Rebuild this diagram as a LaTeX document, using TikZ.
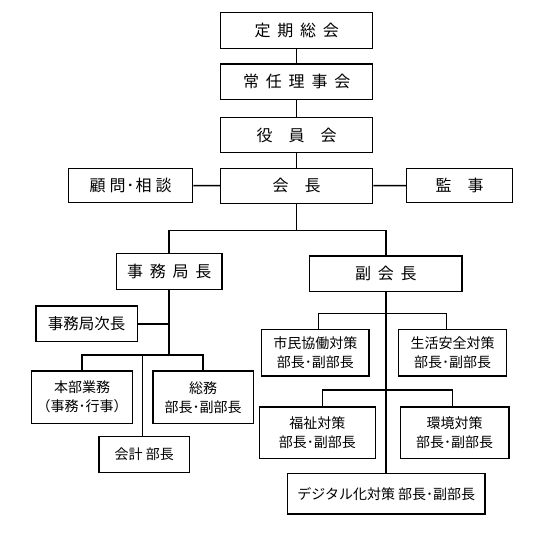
\documentclass[tikz,border=0pt]{standalone}
\usepackage{fontspec}
\newfontfamily\jp{Noto Sans CJK JP}
\newcommand\tgap{\hspace{6.8pt}}
\begin{document}
\begin{tikzpicture}[x=1pt,y=-1pt,
  box/.style={draw, line width=1.5pt, inner sep=0pt, align=center,
    font=\jp\fontsize{14}{19}\selectfont},
  big/.style={font=\jp\fontsize{16}{20}\selectfont},
  mid/.style={font=\jp\fontsize{15.5}{19}\selectfont},
  conn/.style={line width=1.5pt}]
\useasboundingbox (0,0) rectangle (543,539);
% top column
\node[box,big,minimum width=152pt,minimum height=35.6pt] (teiki) at (296.7,30.5) {定\tgap 期\tgap 総\tgap 会};
\node[box,big,minimum width=152pt,minimum height=35.3pt] (jonin) at (296.7,81.7) {常\tgap 任\tgap 理\tgap 事\tgap 会};
\node[box,big,minimum width=152pt,minimum height=35.4pt] (yakuin) at (296.7,135) {役　員　会};
\node[box,big,minimum width=152pt,minimum height=35pt] (kaicho) at (296.7,185.8) {会　長};
\node[box,big,minimum width=124.4pt,minimum height=34.4pt] (komon) at (130.5,185.5) {顧\hspace{4pt}問\hspace{1pt}･\hspace{1pt}相\hspace{4pt}談};
\node[box,big,minimum width=106pt,minimum height=34.4pt] (kanji) at (459.7,185.5) {監　事};
% second level
\node[box,big,minimum width=105.7pt,minimum height=36pt] (jkc) at (169.2,271.3) {事\tgap 務\tgap 局\tgap 長};
\node[box,big,minimum width=152.7pt,minimum height=35.7pt] (fuku) at (385.8,273.8) {副\tgap 会\tgap 長};
% left branch
\node[box,mid,minimum width=101.3pt,minimum height=35.7pt] (jisho) at (86.7,323.8) {事務局次長};
\node[box,minimum width=100.6pt,minimum height=52.3pt] (honbu) at (82,397.2) {本部業務\\（事務･行事）};
\node[box,minimum width=100.3pt,minimum height=52.3pt] (somu) at (203.2,397.2) {総務\\部長･副部長};
\node[box,minimum width=90.3pt,minimum height=35.6pt] (kaikei) at (144.2,454.5) {会計 部長};
% right branch
\node[box,minimum width=107.3pt,minimum height=46.7pt] (shimin) at (315.3,352.7) {市民協働対策\\部長･副部長};
\node[box,minimum width=108pt,minimum height=46.7pt] (seikatsu) at (452.7,352.7) {生活安全対策\\部長･副部長};
\node[box,minimum width=116pt,minimum height=51.5pt] (fukushi) at (317.3,432.7) {福祉対策\\部長･副部長};
\node[box,minimum width=108.7pt,minimum height=51.5pt] (kankyo) at (454.7,432.7) {環境対策\\部長･副部長};
\node[box,minimum width=197.3pt,minimum height=40.7pt] (digital) at (386.3,493.7) {デジタル化対策 部長･副部長};
% connectors: top column
\draw[conn] (teiki) -- (jonin);
\draw[conn] (jonin) -- (yakuin);
\draw[conn] (yakuin) -- (kaicho);
\draw[conn] (komon) -- (kaicho);
\draw[conn] (kaicho) -- (kanji);
\coordinate (kb) at (296.7,230.7);
\draw[conn] (kaicho.south) -- (kb);
\draw[conn] (jkc.north) |- (kb) -| (fuku.north);
% left branch
\coordinate (jb) at (169.2,355);
\draw[conn] (jkc.south) -- (jb);
\draw[conn] (jisho.east) -- (jisho.east -| jb);
\draw[conn] (honbu.north) |- (jb) -| (somu.north);
\coordinate (kk) at (142.7,355);
\draw[conn] (kk) -- (kk |- kaikei.north);
% right branch
\draw[conn] (fuku.south) -- (fuku.south |- digital.north);
\coordinate (b1l) at (318.3,313.3);
\coordinate (b1r) at (446.7,313.3);
\draw[conn] (b1l |- shimin.north) -- (b1l) -- (b1r) -- (b1r |- seikatsu.north);
\coordinate (b2l) at (322.3,390);
\coordinate (b2r) at (452.3,390);
\draw[conn] (b2l |- fukushi.north) -- (b2l) -- (b2r) -- (b2r |- kankyo.north);
\end{tikzpicture}
\end{document}
